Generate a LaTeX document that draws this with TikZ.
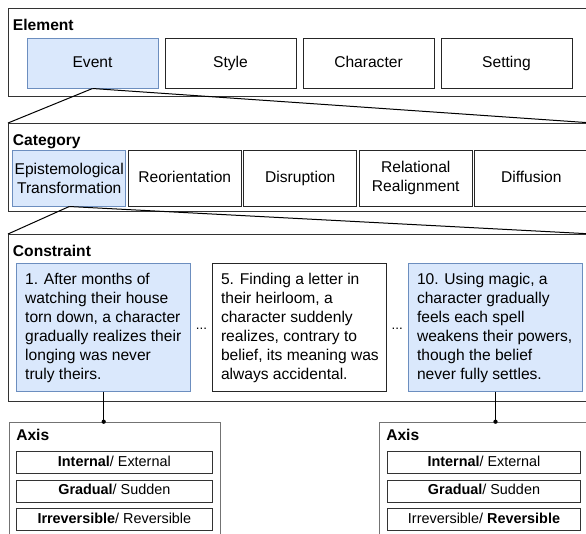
\documentclass[tikz,border=0pt]{standalone}
\usepackage{fontspec}
\setmainfont{Liberation Sans}
\definecolor{bluefill}{HTML}{DAE8FC}
\definecolor{bluedraw}{HTML}{6C8EBF}
\begin{document}
\begin{tikzpicture}[x=0.75pt,y=-0.75pt,
  font=\fontsize{11.7}{14.25}\selectfont,
  outerbox/.style={draw=black!80, line width=0.75pt, rectangle, inner sep=0pt, anchor=north west, minimum width=438pt},
  titletext/.style={font=\fontsize{11.7}{14.25}\selectfont\bfseries, anchor=base west, inner sep=0pt},
  oneline/.style={text height=8.4pt, text depth=2.4pt},
  elbox/.style={draw=black!85, line width=0.75pt, minimum width=98.25pt, minimum height=37.5pt, inner sep=0pt, oneline},
  catbox/.style={draw=black!85, line width=0.75pt, minimum width=85.1pt, minimum height=42pt, inner sep=0pt, align=center},
  conbox/.style={draw=black!85, line width=0.75pt, minimum width=130.9pt, minimum height=96pt, inner sep=0pt},
  context/.style={anchor=west, align=left, inner sep=0pt},
  hl/.style={fill=bluefill, draw=bluedraw},
  axouter/.style={draw=black!55, line width=0.75pt, rectangle, inner sep=0pt, anchor=north west, minimum width=158pt, minimum height=90pt},
  axbox/.style={draw=black!80, line width=0.75pt, minimum height=16.5pt, inner sep=0pt, font=\fontsize{10.8}{12}\selectfont, text height=7.8pt, text depth=2.2pt},
  conn/.style={draw=black, line width=0.75pt},
  dotsep/.style={inner sep=0pt, font=\fontsize{10}{12}\selectfont}
]
\useasboundingbox (0,0) rectangle (586,533);
\clip (0,0) rectangle (586,533);

% Element level
\node[outerbox, minimum height=66pt] (elem) at (8,8) {};
\node[titletext] (elemt) at (12.7,30) {Element};
\node[elbox, hl] (event) at (92.5,63) {Event};
\node[elbox] (style) at (230.5,63) {Style};
\node[elbox] (charac) at (368.5,63) {Character};
\node[elbox] (setting) at (506.5,63) {Setting};

% Category level
\node[outerbox, minimum height=66pt] (cat) at (8,123) {};
\node[titletext] (catt) at (12.7,145) {Category};
\node[catbox, hl] (epi) at (69.25,178) {Epistemological\\Transformation};
\node[catbox, oneline] (reor) at (184.75,178) {Reorientation};
\node[catbox, oneline] (disr) at (300.25,178) {Disruption};
\node[catbox] (rela) at (415.75,178) {Relational\\Realignment};
\node[catbox, oneline] (diff) at (531.25,178) {Diffusion};

% Constraint level
\node[outerbox, minimum height=125.25pt] (con) at (8,234) {};
\node[titletext] (cont) at (12.7,256) {Constraint};
\node[conbox, hl] (c1) at (103.7,327) {};
\node[conbox] (c5) at (299.5,327) {};
\node[conbox, hl] (c10) at (495.5,327) {};
\node[context] (c1t) at ([xshift=6.75pt,yshift=-0.8pt]c1.west) {1. After months of\\watching their house\\torn down, a character\\gradually realizes their\\longing was never\\truly theirs.};
\node[context] (c5t) at ([xshift=6.75pt,yshift=-0.8pt]c5.west) {5. Finding a letter in\\their heirloom, a\\character suddenly\\realizes, contrary to\\belief, its meaning was\\always accidental.};
\node[context] (c10t) at ([xshift=6.75pt,yshift=-0.8pt]c10.west) {10. Using magic, a\\character gradually\\feels each spell\\weakens their powers,\\though the belief\\never fully settles.};
\node[dotsep] (dots1) at (201.5,328.5) {...};
\node[dotsep] (dots2) at (397.3,328.5) {...};

% Axis level
\node[axouter] (axL) at (9.3,421.7) {};
\node[titletext] (axLt) at (16,440) {Axis};
\node[axbox, minimum width=147.5pt] (l1) at (114.35,462.5) {\textbf{Internal}/ External};
\node[axbox, minimum width=147.5pt] (l2) at (114.35,491) {\textbf{Gradual}/ Sudden};
\node[axbox, minimum width=147.5pt] (l3) at (114.35,519.8) {\textbf{Irreversible}/ Reversible};

\node[axouter] (axR) at (379.3,421.7) {};
\node[titletext] (axRt) at (386,440) {Axis};
\node[axbox, minimum width=145pt] (r1) at (484,462.5) {\textbf{Internal}/ External};
\node[axbox, minimum width=145pt] (r2) at (484,491) {\textbf{Gradual}/ Sudden};
\node[axbox, minimum width=145pt] (r3) at (484,519.8) {Irreversible/ \textbf{Reversible}};

% Zoom lines
\draw[conn] (event.south) -- (cat.north west);
\draw[conn] (event.south) -- (cat.north east);
\draw[conn] (epi.south) -- (con.north west);
\draw[conn] (epi.south) -- (con.north east);

% Connectors to axes
\coordinate (d1) at (c1.south |- axL.north);
\coordinate (d2) at (c10.south |- axR.north);
\draw[conn] (c1.south) -- (d1);
\draw[conn] (c10.south) -- (d2);
\fill (d1) circle[radius=1.6pt];
\fill (d2) circle[radius=1.6pt];
\end{tikzpicture}
\end{document}
